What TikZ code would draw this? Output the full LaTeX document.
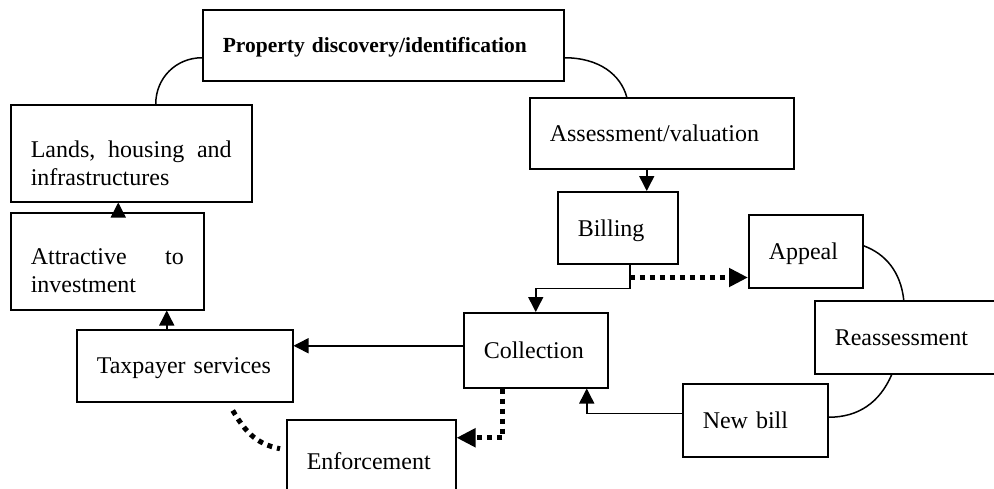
\documentclass[tikz,border=0pt]{standalone}
\usepackage{fontspec}
\setmainfont{Liberation Serif}
\usetikzlibrary{arrows.meta}

\begin{document}
\begin{tikzpicture}[x=1pt,y=-1pt,line join=miter]
\tikzset{
  stage/.style={draw,line width=1.5,anchor=north west,inner xsep=20pt,inner ysep=0pt,
    align=left,text depth=-5pt,font=\fontsize{24}{28}\selectfont},
  flow/.style={line width=1.5,-{Triangle[length=15pt,width=15pt]}},
  dotline/.style={line width=5,dash pattern=on 5pt off 5pt},
  dotflow/.style={dotline,-{Triangle[length=19pt,width=18pt]}},
  loop/.style={line width=1.5}
}
\useasboundingbox (0,0) rectangle (994,488);
\fill[white] (0,0) rectangle (994,488);
\clip (0,0) rectangle (994,488);

% stages of the cycle
\node[stage,text width=321,minimum height=71,font=\bfseries\fontsize{21.5}{26}\selectfont]
  (prop) at (202,9) {Property discovery/identification};
\node[stage,text width=224,minimum height=71] (assess) at (529,97) {Assessment/valuation};
\node[stage,text width=80,minimum height=72] (bill) at (557,191) {Billing};
\node[stage,text width=74,minimum height=73] (appeal) at (748,214) {Appeal};
\node[stage,text width=156,minimum height=73] (reass) at (814,300) {Reassessment};
\node[stage,text width=105,minimum height=73] (newbill) at (682,383) {New bill};
\node[stage,text width=104,minimum height=75] (coll) at (463,312) {Collection};
\node[stage,text width=129,minimum height=82] (enf) at (286,419) {Enforcement};
\node[stage,text width=176,minimum height=72] (tax) at (76,329) {Taxpayer services};
\node[stage,text width=153,minimum height=97,text depth=9pt] (attr) at (10,212) {Attractive\hfill to\\investment};
\node[stage,text width=201,minimum height=97,text depth=9pt] (lands) at (10,104)
  {Lands,\hfill housing\hfill and\\infrastructures};

% links
\draw[loop] ([yshift=-12.5pt]prop.west) .. controls +(-26,0) and +(0,-26) .. ([xshift=24.5pt]lands.north);
\draw[loop] ([yshift=-12.5pt]prop.east) .. controls +(35,0) and +(-6,-22) .. ([xshift=-35pt]assess.north);
\draw[flow] ([xshift=-15pt]assess.south) -- ([xshift=-15pt]assess.south |- bill.north);

\coordinate (fork) at ([xshift=12pt,yshift=-13pt]bill.south);
\draw[flow] ([xshift=12pt]bill.south) -- ++(0,24) -| (coll.north);
\draw[dotflow] (fork) -- (fork -| appeal.west);

\draw[loop] ([yshift=5.5pt]appeal.east) .. controls +(22,8) and +(-3,-28) .. ([xshift=-9pt]reass.north);
\draw[loop] ([xshift=-21pt]reass.south) .. controls +(-12,28) and +(30,0) .. ([yshift=3pt]newbill.east);
\draw[flow] ([yshift=7pt]newbill.west) -| ([xshift=51pt]coll.south);

\draw[flow] ([yshift=4.5pt]coll.west) -- ([yshift=4.5pt]coll.west -| tax.east);
\draw[dotflow] ([xshift=-33pt]coll.south) |- ([yshift=23pt]enf.east);
\draw[dotline] ([xshift=48pt,yshift=-8pt]tax.south) .. controls +(12,20) and +(-25,-5) .. ([xshift=-6pt,yshift=12pt]enf.west);

\draw[flow] ([xshift=-18pt]tax.north) -- ([xshift=-18pt]tax.north |- attr.south);
\draw[flow] ([xshift=11pt]attr.north) -- ([xshift=11pt]attr.north |- lands.south);
\end{tikzpicture}
\end{document}
